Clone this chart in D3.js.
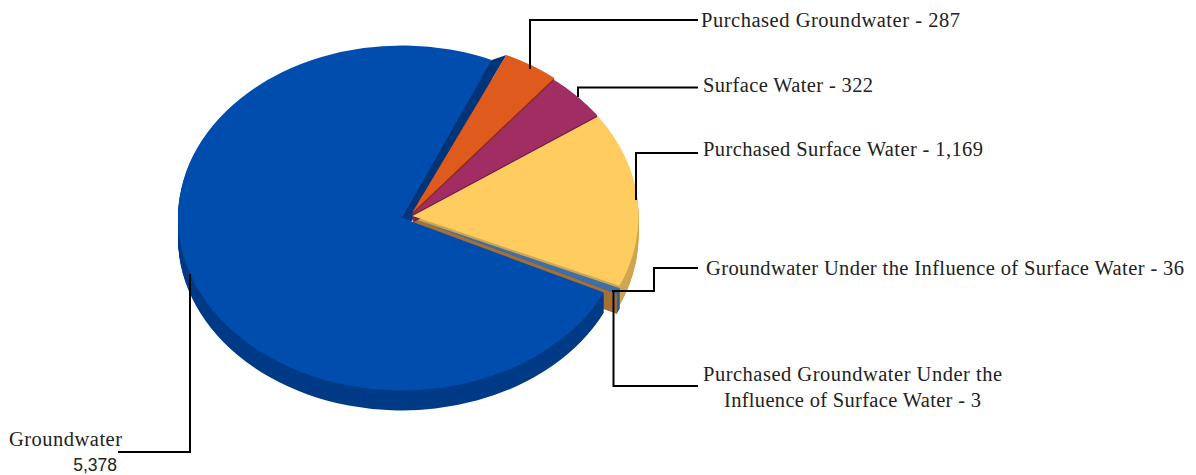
<!DOCTYPE html>
<html><head><meta charset="utf-8">
<style>html,body{margin:0;padding:0;background:#fff;overflow:hidden}svg{display:block}</style>
<script src="https://cdnjs.cloudflare.com/ajax/libs/d3/7.8.5/d3.min.js"></script>
</head><body>
<svg id="c" width="1196" height="475"></svg>
<script>
const categories=["Purchased Groundwater","Surface Water","Purchased Surface Water","Groundwater Under the Influence of Surface Water","Purchased Groundwater Under the Influence of Surface Water","Groundwater"];
const values=[287,322,1169,36,3,5378];
const faceColors=["#df5a1d","#a12d63","#ffcc60","#3f6fa8","#3f6fa8","#004dae"];
const wallColors=["#8f2c22","#6b1d4a","#cfa653","#34608f","#34608f","#003b87"];

const squash=0.77,depth=20;
const centers=[[412,213],[412,215],[412.5,216],[413,218.5],[413,218.5],[402,218]];
const wallDepth=[8,8,20,20,20,20];
const radii=[226,226,226,226,226,224];
const trim=[0,0,0,0,0,1.1*Math.PI/180];
const svg=d3.select("#c");
const pie=d3.pie().value(d=>d).sort(null).startAngle(24.7*Math.PI/180).endAngle(384.7*Math.PI/180);
const arcs=pie(values);
const arc=(i)=>d3.arc().innerRadius(0).outerRadius(radii[i]).startAngle(arcs[i].startAngle).endAngle(arcs[i].endAngle-trim[i])();
const polar=(i,a,r)=>[centers[i][0]+r*Math.sin(a),centers[i][1]-r*Math.cos(a)*squash];
const poly=d3.line();

function stack(i){
  const g=svg.append("g");
  d3.range(wallDepth[i],0,-1).forEach(k=>{
    g.append("path").attr("d",arc(i)).attr("fill",wallColors[i])
     .attr("transform",`translate(${centers[i][0]},${centers[i][1]+k}) scale(1,${squash})`);
  });
}
function face(i){
  svg.append("path").attr("d",arc(i)).attr("fill",faceColors[i])
     .attr("transform",`translate(${centers[i][0]},${centers[i][1]}) scale(1,${squash})`);
}
stack(2);stack(3);stack(4);
const a4=arcs[4].endAngle;
const o=polar(4,a4,radii[4]), c4=centers[4];
svg.append("path").attr("fill","#a66f35")
  .attr("d",poly([c4,o,[o[0],o[1]+depth],[c4[0],c4[1]+depth]])+"Z");
stack(5);face(5);
const e5=polar(5,arcs[5].endAngle-trim[5],radii[5]), e0=polar(0,arcs[0].startAngle,radii[0]);
svg.append("path").attr("fill","#003478")
  .attr("d",poly([centers[5],e5,e0,centers[0]])+"Z");
stack(0);face(0);stack(1);face(1);face(2);face(3);face(4);

const leaderPts=[
 [[530,69],[530,20],[698,20]],
 [[578,97],[578,87.5],[698,87.5]],
 [[636,200],[636,153],[698,153]],
 [[612,291],[654,291],[654,268],[698,268]],
 [[613.5,291],[613.5,386],[698,386]],
 [[190,274],[190,452],[118,452]]
];
svg.selectAll("path.leader").data(leaderPts).join("path").attr("class","leader")
  .attr("d",d=>poly(d)).attr("fill","none").attr("stroke","#000").attr("stroke-width",2);

const fmt=d3.format(",");
const lab=[
 {t:`${categories[0]} - ${fmt(values[0])}`,x:701,y:26.5,w:259},
 {t:`${categories[1]} - ${fmt(values[1])}`,x:703,y:91.5,w:170},
 {t:`${categories[2]} - ${fmt(values[2])}`,x:703,y:155.5,w:280},
 {t:`${categories[3]} - ${fmt(values[3])}`,x:706,y:274.5,w:478},
 {t:"Purchased Groundwater Under the",x:703,y:380.5,w:299},
 {t:`Influence of Surface Water - ${fmt(values[4])}`,x:724,y:406.5,w:257},
 {t:"Groundwater",x:9,y:445.5,w:113}
];
svg.selectAll("text.l").data(lab).join("text").attr("class","l")
  .attr("x",d=>d.x).attr("y",d=>d.y).attr("textLength",d=>d.w).attr("lengthAdjust","spacing")
  .attr("font-family","'Liberation Serif',serif").attr("font-size",20.5).attr("fill","#222").text(d=>d.t);
svg.append("text").attr("x",117).attr("y",471).attr("text-anchor","end")
  .attr("font-family","'Liberation Sans',sans-serif").attr("font-size",17.5).attr("fill","#222").text(fmt(values[5]));
</script>
</body></html>
